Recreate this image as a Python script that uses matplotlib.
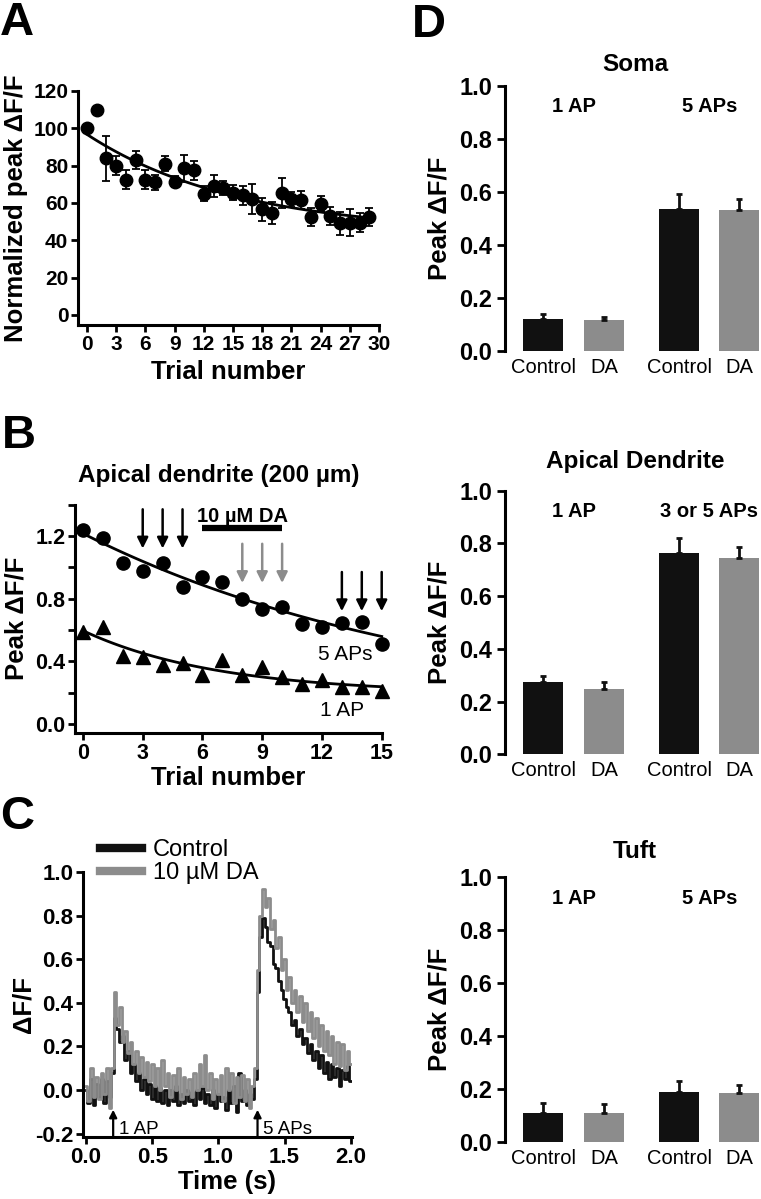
import numpy as np
import matplotlib.pyplot as plt
from matplotlib.lines import Line2D

plt.rcParams['font.family'] = ['Liberation Sans', 'DejaVu Sans']
plt.rcParams['font.weight'] = 'bold'
plt.rcParams['axes.labelweight'] = 'bold'

W, H = 761, 1199
BLACK = '#111111'
GRAY = '#8c8c8c'

# ---- panel A: normalized peak vs trial
trials_a = np.arange(30)
norm_peak = [100, 110, 84, 80, 72.5, 83, 72.5, 71, 81, 71.5,
             78.5, 77.5, 65, 69, 68, 65.5, 64, 62, 56.5, 54.5,
             65.5, 62, 61.5, 52.5, 59.5, 53, 49, 49.5, 49.5, 52.5]
norm_err = [0, 0, 12, 5, 5, 5, 5, 4, 4, 3,
            7, 5, 4, 6, 4, 4, 5, 8, 6, 6,
            8, 4, 5, 5, 4, 5, 6, 7, 5, 5]

# ---- panel B: apical dendrite 200 um
trials_b = np.arange(16)
peak_5ap = [1.24, 1.19, 1.03, 0.976, 1.03, 0.874, 0.94, 0.908, 0.80, 0.737,
            0.744, 0.636, 0.621, 0.643, 0.649, 0.513]
peak_1ap = [0.589, 0.621, 0.434, 0.425, 0.376, 0.391, 0.313, 0.408, 0.313, 0.366,
            0.302, 0.255, 0.281, 0.238, 0.234, 0.21]
black_arrows = [3, 4, 5]
gray_arrows = [8, 9, 10]
late_arrows = [13, 14, 15]
da_span = [6, 10]

# ---- panel C: example traces
time_c = np.arange(101) * 0.02
trace_control = [0.00, -0.06, 0.05, -0.07, 0.03, -0.03, 0.05, -0.06, 0.04, -0.03,
                 0.08, 0.33, 0.28, 0.22, 0.25, 0.14, 0.18, 0.08, 0.12, 0.04,
                 0.08, 0.00, 0.05, -0.02, 0.03, -0.04, 0.02, -0.05, 0.01, -0.06,
                 0.00, -0.07, 0.00, -0.05, 0.02, -0.07, -0.02, -0.06, 0.00, -0.05,
                 -0.01, -0.07, 0.00, -0.04, 0.01, -0.06, -0.02, -0.07, 0.00, -0.08,
                 -0.02, -0.05, -0.03, -0.09, 0.00, -0.06, 0.02, -0.10, 0.08, -0.05,
                 0.00, -0.07, -0.02, -0.04, 0.05, 0.45, 0.70, 0.79, 0.75, 0.68,
                 0.66, 0.58, 0.56, 0.50, 0.46, 0.42, 0.38, 0.36, 0.30, 0.32,
                 0.25, 0.28, 0.21, 0.24, 0.17, 0.21, 0.14, 0.18, 0.10, 0.16,
                 0.08, 0.13, 0.05, 0.12, 0.06, 0.10, 0.02, 0.09, 0.05, 0.11,
                 0.04]
trace_da = [0.02, -0.05, 0.10, -0.03, 0.06, -0.04, 0.08, -0.02, 0.10, -0.08,
            0.10, 0.45, 0.30, 0.38, 0.22, 0.27, 0.17, 0.22, 0.12, 0.18,
            0.08, 0.15, 0.06, 0.13, 0.04, 0.12, 0.02, 0.10, 0.00, 0.14,
            0.02, 0.08, -0.03, 0.07, 0.00, 0.10, -0.04, 0.06, -0.02, 0.05,
            -0.03, 0.08, 0.00, 0.12, 0.02, 0.16, 0.00, 0.08, -0.04, 0.05,
            -0.02, 0.07, -0.05, 0.10, 0.00, 0.08, -0.06, 0.06, -0.03, 0.07,
            -0.05, 0.05, -0.08, 0.02, 0.10, 0.55, 0.80, 0.92, 0.84, 0.88,
            0.74, 0.78, 0.65, 0.70, 0.55, 0.60, 0.46, 0.52, 0.40, 0.46,
            0.36, 0.43, 0.31, 0.40, 0.27, 0.36, 0.24, 0.33, 0.20, 0.30,
            0.18, 0.27, 0.16, 0.25, 0.12, 0.22, 0.11, 0.21, 0.09, 0.18,
            0.12]
stim_times = [0.205, 1.296]
stim_labels = ['1 AP', '5 APs']

# ---- panel D: bar charts
bar_labels = ['Control', 'DA', 'Control', 'DA']
bar_pos = [0, 1.51, 3.4, 4.89]
soma_vals = [0.12, 0.117, 0.535, 0.532]
soma_err = [0.02, 0.013, 0.056, 0.042]
apical_vals = [0.275, 0.248, 0.765, 0.744]
apical_err = [0.022, 0.027, 0.054, 0.044]
tuft_vals = [0.109, 0.109, 0.191, 0.187]
tuft_err = [0.038, 0.036, 0.04, 0.029]


def exp_fit(x, y):
    # single exponential with offset, tau by grid search
    x = np.asarray(x, float)
    y = np.asarray(y, float)
    best = None
    for tau in np.linspace(2, 200, 1000):
        A = np.column_stack([np.exp(-x / tau), np.ones_like(x)])
        coef, res, _, _ = np.linalg.lstsq(A, y, rcond=None)
        r = np.sum((A @ coef - y) ** 2)
        if best is None or r < best[0]:
            best = (r, tau, coef)
    _, tau, coef = best
    return lambda t: coef[0] * np.exp(-t / tau) + coef[1]


fig = plt.figure(figsize=(W / 100, H / 100), dpi=100)


def px_axes(left, top, right, bottom):
    return fig.add_axes([left / W, 1 - bottom / H, (right - left) / W, (bottom - top) / H])


def style(ax, size, bottom=True):
    ax.spines['top'].set_visible(False)
    ax.spines['right'].set_visible(False)
    ax.spines['left'].set_linewidth(2.2)
    ax.spines['bottom'].set_linewidth(2.2)
    if not bottom:
        ax.spines['bottom'].set_visible(False)
    ax.tick_params(width=2, length=5, labelsize=size, pad=2)
    ax.tick_params(which='minor', width=2, length=5)


# A
axA = px_axes(78, 91, 379, 325)
style(axA, 15)
axA.errorbar(trials_a, norm_peak, yerr=norm_err, fmt='o', color='k', ms=9,
             capsize=3, elinewidth=1.3, capthick=1.3, clip_on=False)
fA = exp_fit(trials_a, norm_peak)
xa = np.linspace(0, 29, 100)
axA.plot(xa, fA(xa), color='k', lw=2)
axA.set_xlim(-0.92, 30)
axA.set_ylim(-5.4, 120)
axA.set_xticks(range(0, 31, 3))
axA.set_yticks(range(0, 121, 20))
axA.set_xlabel('Trial number', fontsize=18.5)
axA.set_ylabel('Normalized peak ΔF/F', fontsize=18.5)
axA.xaxis.set_label_coords(0.5, -0.15)
axA.yaxis.set_label_coords(-0.165, 0.5)

# B
axB = px_axes(75, 504.6, 381.7, 733)
style(axB, 15.5)
axB.plot(trials_b, peak_5ap, 'o', color='k', ms=9.5, clip_on=False)
axB.plot(trials_b, peak_1ap, '^', color='k', ms=10, clip_on=False)
xb = np.linspace(0, 15, 100)
for series in (peak_5ap, peak_1ap):
    fB = exp_fit(trials_b, series)
    axB.plot(xb, fB(xb), color='k', lw=2, clip_on=False)
arrow_kw = dict(arrowstyle='-|>', lw=1.8, shrinkA=0, shrinkB=0, mutation_scale=16)
for t in black_arrows:
    axB.annotate('', xy=(t, 1.12), xytext=(t, 1.37), arrowprops=dict(color='k', **arrow_kw))
for t in gray_arrows:
    axB.annotate('', xy=(t, 0.90), xytext=(t, 1.15), arrowprops=dict(color=GRAY, **arrow_kw))
for t in late_arrows:
    axB.annotate('', xy=(t, 0.72), xytext=(t, 0.97), arrowprops=dict(color='k', **arrow_kw))
axB.plot(da_span, [1.25, 1.25], color='k', lw=4.5, solid_capstyle='butt')
axB.text(np.mean(da_span), 1.29, '10 µM DA', ha='center', va='baseline', fontsize=14.5)
axB.text(11.8, 0.41, '5 APs', fontsize=15, fontweight='normal', va='baseline')
axB.text(11.9, 0.05, '1 AP', fontsize=15, fontweight='normal', va='baseline')
axB.set_xlim(-0.4, 15)
axB.set_ylim(-0.057, 1.4)
axB.set_xticks(range(0, 16, 3))
axB.set_yticks([0, 0.4, 0.8, 1.2])
axB.set_yticks([0.2, 0.6, 1.0, 1.4], minor=True)
axB.set_yticklabels(['0.0', '0.4', '0.8', '1.2'])
axB.set_xlabel('Trial number', fontsize=18.5)
axB.set_ylabel('Peak ΔF/F', fontsize=18.5)
axB.xaxis.set_label_coords(0.5, -0.145)
axB.yaxis.set_label_coords(-0.15, 0.5)
axB.text(0.47, 1.0 + (504.6 - 482) / 228.4, 'Apical dendrite (200 µm)', transform=axB.transAxes,
         ha='center', va='baseline', fontsize=17.5)

# C
axC = px_axes(83, 872, 352, 1137)
style(axC, 16)
axC.plot(time_c, trace_control, color=BLACK, lw=2, drawstyle='steps-mid')
axC.plot(time_c, trace_da, color=GRAY, lw=2, drawstyle='steps-mid')
for t, lab in zip(stim_times, stim_labels):
    axC.annotate('', xy=(t, -0.09), xytext=(t, -0.215),
                 arrowprops=dict(arrowstyle='-|>', color='k', lw=1.6, shrinkA=0, shrinkB=0,
                                 mutation_scale=11))
    axC.text(t + 0.045, -0.2, lab, fontsize=13.5, fontweight='normal', va='baseline')
axC.set_xlim(-0.023, 2.01)
axC.set_ylim(-0.215, 1.0)
axC.set_xticks([0, 0.5, 1.0, 1.5, 2.0])
axC.set_xticklabels(['0.0', '0.5', '1.0', '1.5', '2.0'])
axC.set_yticks([-0.2, 0, 0.2, 0.4, 0.6, 0.8, 1.0])
axC.set_yticklabels(['-0.2', '0.0', '0.2', '0.4', '0.6', '0.8', '1.0'])
axC.set_xlabel('Time (s)', fontsize=18.5)
axC.set_ylabel('ΔF/F', fontsize=18.5)
axC.xaxis.set_label_coords(0.537, -0.125)
axC.yaxis.set_label_coords(-0.175, 0.5)
handles = [Line2D([], [], color=BLACK, lw=6), Line2D([], [], color=GRAY, lw=6)]
axC.legend(handles, ['Control', '10 µM DA'], loc='upper left', bbox_to_anchor=(0.063, 1.125),
           frameon=False, prop={'size': 17, 'weight': 'normal'}, handlelength=1.8,
           handletextpad=0.45, labelspacing=0.05, borderpad=0, borderaxespad=0)

# D
panels = [
    ('Soma', soma_vals, soma_err, ['1 AP', '5 APs'], (86, 351), 71),
    ('Apical Dendrite', apical_vals, apical_err, ['1 AP', '3 or 5 APs'], (490.7, 754.3), 468),
    ('Tuft', tuft_vals, tuft_err, ['1 AP', '5 APs'], (877.3, 1142.3), 858),
]
for title, vals, errs, groups, (top, bottom), title_y in panels:
    ax = px_axes(505, top, 761, bottom)
    style(ax, 17, bottom=False)
    ax.bar(bar_pos, vals, width=1, color=[BLACK, GRAY, BLACK, GRAY],
           yerr=[np.zeros(len(errs)), errs],
           error_kw=dict(ecolor=BLACK, elinewidth=2, capsize=2.5, capthick=2))
    ax.set_xlim(-0.9625, 5.44)
    ax.set_ylim(0, 1.0)
    ax.set_yticks(np.arange(0, 1.01, 0.2))
    ax.set_yticklabels(['%.1f' % v for v in np.arange(0, 1.01, 0.2)])
    ax.tick_params(axis='y', length=6, pad=3)
    ax.set_xticks(bar_pos)
    ax.set_xticklabels(bar_labels, fontsize=14.5, fontweight='normal')
    ax.tick_params(axis='x', length=0, pad=5)
    ax.set_ylabel('Peak ΔF/F', fontsize=18.5)
    ax.yaxis.set_label_coords(-0.21, 0.5)
    ax.text((bar_pos[0] + bar_pos[1]) / 2, 0.9, groups[0], ha='center', va='baseline', fontsize=14.5)
    ax.text((bar_pos[2] + bar_pos[3]) / 2, 0.9, groups[1], ha='center', va='baseline', fontsize=14.5)
    ax.text(0.508, 1 + (top - title_y) / (bottom - top), title, transform=ax.transAxes,
            ha='center', va='baseline', fontsize=17.5)

# panel letters
for letter, x, y in [('A', 0, 35), ('B', 1.5, 448), ('C', 0, 829), ('D', 411.5, 37)]:
    fig.text(x / W, 1 - y / H, letter, fontsize=34, fontweight='bold', va='baseline')

fig.savefig('out.png', dpi=100)
